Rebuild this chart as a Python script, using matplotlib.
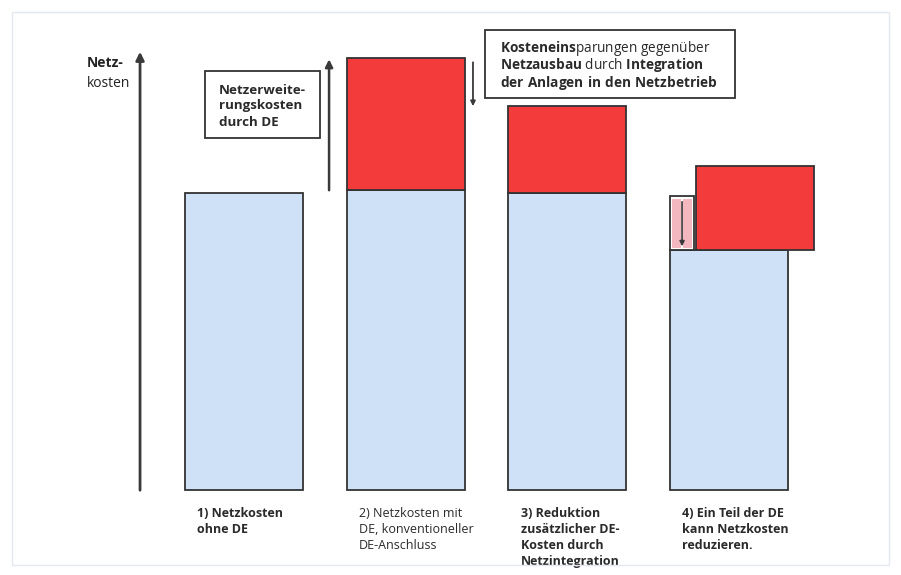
import matplotlib.pyplot as plt
from matplotlib.patches import Rectangle

plt.rcParams['font.family'] = ['Open Sans', 'DejaVu Sans']
plt.rcParams['mathtext.fontset'] = 'custom'
plt.rcParams['mathtext.rm'] = 'Open Sans'
plt.rcParams['mathtext.bf'] = 'Open Sans:bold'

# conceptual values (arbitrary units, base of grid costs = ~100)
stages = [0, 1, 2, 3]
base_costs = [99, 100, 99, 80]        # light blue part
extra_costs = [0, 44, 29, 28]         # red part (additional costs through DE)
reduction = [0, 0, 0, 18]             # pink strip: costs reduced by DE
labels = ['1) Netzkosten\nohne DE',
          '2) Netzkosten mit\nDE, konventioneller\nDE-Anschluss',
          '3) Reduktion\nzusätzlicher DE-\nKosten durch\nNetzintegration',
          '4) Ein Teil der DE\nkann Netzkosten\nreduzieren.']
label_bold = [True, False, True, True]

blue = '#cfe1f7'
red = '#f43b3b'
pink = '#f3b7c0'
edge = '#333333'
dark = '#3a3a3a'

fig = plt.figure(figsize=(9.01, 5.75), dpi=100)
ax = fig.add_axes([0, 0, 1, 1])
ax.set_xlim(-1.509, 4.063)
ax.set_ylim(-28.33, 163.33)
ax.axis('off')

w = 0.73
ax.bar(stages, base_costs, width=w, color=blue, edgecolor=edge, linewidth=1.3)

# red blocks: on top of blue bars for 2 and 3, shifted to the right for 4
shift = [0, 0, 0, 0.158]
red_x = [s + d for s, d in zip(stages, shift)]
for x, h, b in zip(red_x, extra_costs, base_costs):
    if h > 0:
        ax.bar(x, h, width=w, bottom=b, color=red, edgecolor=edge, linewidth=1.3)

# pink strip in stage 4 (reduction of grid costs)
px0 = stages[3] - w / 2
pw = 0.148
ax.add_patch(Rectangle((px0, base_costs[3]), pw, reduction[3],
                       facecolor='white', edgecolor=edge, linewidth=1.3))
ax.bar([px0 + pw * 0.27, px0 + pw * 0.73], [reduction[3] - 1.5] * 2,
       width=pw * 0.38, bottom=base_costs[3] + 0.5, color=pink, linewidth=0)
ax.annotate('', xy=(px0 + pw * 0.5, base_costs[3] + 0.3),
            xytext=(px0 + pw * 0.5, base_costs[3] + reduction[3] - 1),
            arrowprops=dict(arrowstyle='-|>', color=dark, lw=1.2,
                            mutation_scale=7))

# y axis arrow
ax.annotate('', xy=(-0.643, 147), xytext=(-0.643, -1),
            arrowprops=dict(arrowstyle='-|>', color=dark, lw=2,
                            mutation_scale=12))
ax.text(-0.97, 142.3, 'Netz-', fontsize=10, fontweight='bold',
        color='#222222', va='center')
ax.text(-0.97, 135.5, 'kosten', fontsize=10, color='#222222', va='center')

# up arrow beside bar 2 (grid extension costs)
ax.annotate('', xy=(0.526, base_costs[1] + extra_costs[1] + 0.5),
            xytext=(0.526, base_costs[1] - 1),
            arrowprops=dict(arrowstyle='-|>', color=dark, lw=1.8,
                            mutation_scale=11))
# small down arrow beside bar 2 (savings)
ax.annotate('', xy=(1.416, 127), xytext=(1.416, 143.5),
            arrowprops=dict(arrowstyle='-|>', color=dark, lw=1.3,
                            mutation_scale=7))


# annotation boxes (figure pixel coords)
def fx(x):
    return x / 901


def fy(y):
    return 1 - y / 575


fig.patches.append(Rectangle((fx(205), fy(138)), fx(320) - fx(205),
                             fy(71) - fy(138), transform=fig.transFigure,
                             facecolor='white', edgecolor=edge, linewidth=1.3))
fig.text(fx(219), fy(106), 'Netzerweite-\nrungskosten\ndurch DE', fontsize=9.6,
         fontweight='bold', color='#2a2a2a', va='center', linespacing=1.3,
         transform=fig.transFigure)

fig.patches.append(Rectangle((fx(485), fy(98)), fx(735) - fx(485),
                             fy(30) - fy(98), transform=fig.transFigure,
                             facecolor='white', edgecolor=edge, linewidth=1.3))
box_lines = [r'$\mathbf{Kosteneins}$parungen gegenüber',
             r'$\mathbf{Netzausbau}$ durch $\mathbf{Integration}$',
             r'$\mathbf{der\ Anlagen\ in\ den\ Netzbetrieb}$']
for i, line in enumerate(box_lines):
    fig.text(fx(500), fy(52 + i * 17.5), line, fontsize=9.8,
             color='#2a2a2a', va='baseline', transform=fig.transFigure)

# stage labels
for s, lab, bold in zip(stages, labels, label_bold):
    ax.text(s - 0.29, -5.5, lab, fontsize=9,
            fontweight='bold' if bold else 'normal', color='#2a2a2a',
            va='top', ha='left', linespacing=1.3)

# faint scan frame
fig.patches.append(Rectangle((fx(12), fy(565)), fx(889) - fx(12),
                             fy(12) - fy(565), transform=fig.transFigure,
                             facecolor='none', edgecolor='#e4e8ee', linewidth=1))

fig.savefig('out.png', dpi=100)
